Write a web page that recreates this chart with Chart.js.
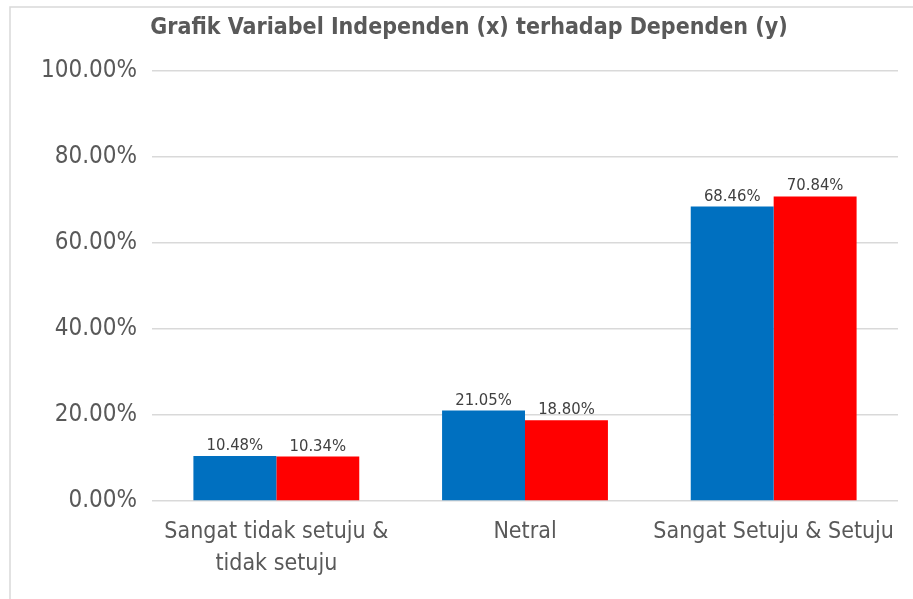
<!DOCTYPE html>
<html>
<head>
<meta charset="utf-8">
<script src="https://cdn.jsdelivr.net/npm/chart.js@4"></script>
<style>
html,body{margin:0;padding:0;background:#fff;}
#wrap{position:relative;width:913px;height:599px;}
</style>
</head>
<body>
<div id="wrap"><canvas id="c" width="913" height="599"></canvas></div>
<script>
const titleText = 'Grafik Variabel Independen (x) terhadap Dependen (y)';
const categories = [['Sangat tidak setuju &', 'tidak setuju'], 'Netral', 'Sangat Setuju & Setuju'];
const seriesNames = ['Independen (x)', 'Dependen (y)'];
const independenValues = [10.48, 21.05, 68.46];
const dependenValues = [10.34, 18.80, 70.84];
const yTicks = [0, 20, 40, 60, 80, 100];

const FONT = "'DejaVu Sans Condensed', Lato, sans-serif";

const framePlugin = {
  id: 'frame',
  beforeDraw(chart) {
    const ctx = chart.ctx;
    ctx.save();
    ctx.fillStyle = '#fff';
    ctx.fillRect(0, 0, chart.width, chart.height);
    ctx.strokeStyle = '#d9d9d9';
    ctx.lineWidth = 1.5;
    ctx.beginPath();
    ctx.moveTo(10, chart.height);
    ctx.lineTo(10, 7);
    ctx.lineTo(chart.width, 7);
    ctx.stroke();
    ctx.font = "bold 23px " + FONT;
    ctx.fillStyle = '#595959';
    ctx.textAlign = 'center';
    ctx.textBaseline = 'middle';
    ctx.fillText(titleText, 469, 28);
    ctx.restore();
  },
  afterDatasetsDraw(chart) {
    const ctx = chart.ctx;
    ctx.save();
    ctx.font = "16.5px " + FONT;
    ctx.fillStyle = '#404040';
    ctx.textAlign = 'center';
    ctx.textBaseline = 'bottom';
    chart.data.datasets.forEach((ds, i) => {
      const meta = chart.getDatasetMeta(i);
      meta.data.forEach((bar, j) => {
        ctx.fillText(ds.data[j].toFixed(2) + '%', bar.x, bar.y - 2);
      });
    });
    ctx.restore();
  }
};

new Chart(document.getElementById('c'), {
  type: 'bar',
  data: {
    labels: categories,
    datasets: [
      { label: seriesNames[0], data: independenValues, backgroundColor: '#0070C0', borderWidth: 0 },
      { label: seriesNames[1], data: dependenValues, backgroundColor: '#FF0000', borderWidth: 0 }
    ]
  },
  options: {
    responsive: false,
    animation: false,
    devicePixelRatio: 1,
    layout: { padding: { left: 10, right: 15, top: 71, bottom: 0 } },
    plugins: { legend: { display: false }, title: { display: false }, tooltip: { enabled: false } },
    datasets: { bar: { categoryPercentage: 0.667, barPercentage: 1.0 } },
    scales: {
      x: {
        grid: { display: false, drawTicks: false },
        border: { display: false },
        ticks: { color: '#595959', font: { family: FONT, size: 23, lineHeight: 1.39 }, padding: 15, maxRotation: 0, autoSkip: false },
        afterFit(scale) { scale.height = 98; }
      },
      y: {
        min: 0, max: 100,
        afterBuildTicks(scale) { scale.ticks = yTicks.map(v => ({ value: v })); },
        grid: { color: '#d9d9d9', lineWidth: 1.5, drawTicks: false },
        border: { display: false },
        ticks: {
          color: '#595959', font: { family: FONT, size: 24 }, padding: 15,
          callback: v => v.toFixed(2) + '%'
        },
        afterFit(scale) { scale.width = 142; }
      }
    }
  },
  plugins: [framePlugin]
});
</script>
</body>
</html>
